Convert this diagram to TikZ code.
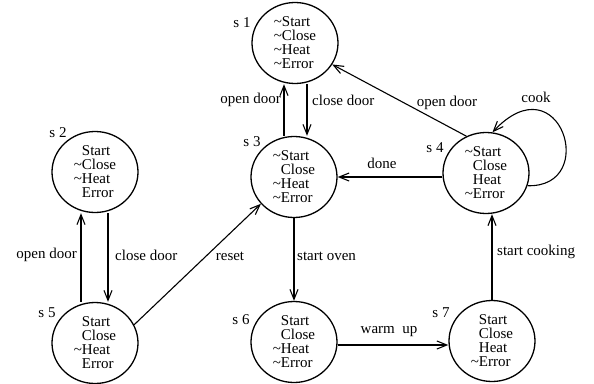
\documentclass[tikz,border=0pt]{standalone}
\usepackage{fontspec}
\setmainfont{Liberation Serif}
\usetikzlibrary{shapes.geometric,arrows.meta}
\newcommand\TLD{\textasciitilde}
\newcommand\NTL{\phantom{\textasciitilde}}
\begin{document}
\begin{tikzpicture}[x=1pt,y=-1pt,
  every node/.style={font=\fontsize{15}{14}\selectfont},
  state/.style={ellipse,draw,line width=1.3pt,minimum width=86pt,minimum height=81pt,inner sep=0pt,align=left},
  tr/.style={line width=1.1pt,-{Straight Barb[length=10pt,width=8pt,line width=1.1pt]}},
  lab/.style={inner sep=1pt}]
\useasboundingbox (0,0) rectangle (594,383);
% states
\node[state] (s1) at (295,43) {\TLD Start\\\TLD Close\\\TLD Heat\\\TLD Error};
\node[state] (s3) at (294,177) {\TLD Start\\\NTL Close\\\TLD Heat\\\TLD Error};
\node[state] (s2) at (95,172) {\NTL Start\\\TLD Close\\\TLD Heat\\\NTL Error};
\node[state] (s5) at (95,343) {\NTL Start\\\NTL Close\\\TLD Heat\\\NTL Error};
\node[state] (s4) at (486,173) {\TLD Start\\\NTL Close\\\NTL Heat\\\TLD Error};
\node[state] (s6) at (294,342) {\NTL Start\\\NTL Close\\\TLD Heat\\\TLD Error};
\node[state] (s7) at (492,341) {\NTL Start\\\NTL Close\\\NTL Heat\\\TLD Error};
% state names
\node (t1) at (242,23) {s 1};
\node (t2) at (58,133) {s 2};
\node (t3) at (252,142) {s 3};
\node (t4) at (435,148) {s 4};
\node (t5) at (47,313) {s 5};
\node (t6) at (241,320) {s 6};
\node (t7) at (441,313) {s 7};
% transitions
\draw[tr] ([xshift=-10pt]s3.north) -- ([xshift=-11pt]s1.south);
\draw[tr] ([xshift=12pt]s1.south) -- ([xshift=13pt]s3.north);
\draw[tr] ([xshift=-14pt]s5.north) -- ([xshift=-14pt]s2.south);
\draw[tr] ([xshift=13pt]s2.south) -- ([xshift=13pt]s5.north);
\draw[tr] (s5.25) -- (s3.219);
\draw[tr] (s3.south) -- (s6.north);
\draw[tr] ([yshift=-3pt]s6.east) -- ([yshift=-4pt]s7.west);
\draw[tr] (s7.north) -- ([xshift=6pt]s4.south);
\draw[tr] ([yshift=-4pt]s4.west) -- (s3.east);
\draw[tr] (s4.118) -- (s1.330);
\draw[tr] (s4.343) .. controls (600,188) and (560,60) .. (s4.81);
% transition labels
\node[lab,anchor=east] (l1) at (282,100) {open door};
\node[lab,anchor=west] (l2) at (311,100) {close door};
\node[lab,anchor=east] (l3) at (78,255) {open door};
\node[lab,anchor=west] (l4) at (114,255) {close door};
\node[lab] (l5) at (230,256) {reset};
\node[lab,anchor=west] (l6) at (296,256) {start oven};
\node[lab] (l7) at (382,163) {done};
\node[lab] (l8) at (447,103) {open door};
\node[lab] (l9) at (536,97) {cook};
\node[lab] (l10) at (389,332) {warm\ \ up};
\node[lab,anchor=west] (l11) at (496,252) {start cooking};
\end{tikzpicture}
\end{document}
